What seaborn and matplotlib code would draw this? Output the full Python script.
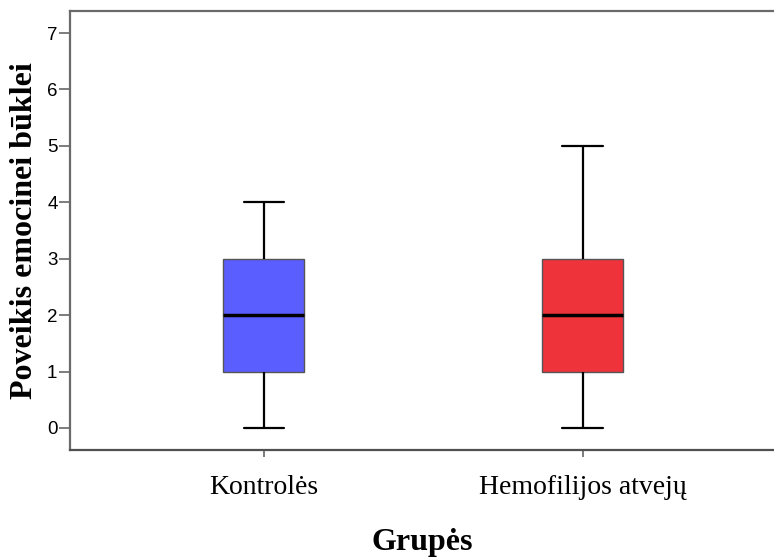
import matplotlib
matplotlib.use("Agg")
import matplotlib.pyplot as plt
import seaborn as sns
import pandas as pd

categories = ["Kontrolės", "Hemofilijos atvejų"]
# raw scores chosen so the box statistics match the figure
kontroles = [0, 1, 1, 2, 2, 2, 3, 3, 4]
hemofilija = [0, 1, 1, 2, 2, 2, 3, 3, 5]
colors = ["#5a5eff", "#ef333a"]
y_ticks = [0, 1, 2, 3, 4, 5, 6, 7]

df = pd.DataFrame({
    "group": [categories[0]] * len(kontroles) + [categories[1]] * len(hemofilija),
    "value": kontroles + hemofilija,
})

sns.set_style("white")
plt.rcParams["text.color"] = "black"
plt.rcParams["axes.labelcolor"] = "black"
plt.rcParams["xtick.color"] = "black"
plt.rcParams["ytick.color"] = "black"

fig = plt.figure(figsize=(7.74, 5.6), dpi=100)
ax = fig.add_axes([70 / 774, 1 - 450 / 560, 1 - 70 / 774, (450 - 11) / 560])

sns.boxplot(
    data=df, x="group", y="value", hue="group", order=categories,
    hue_order=categories, palette=colors, width=0.254, legend=False,
    linewidth=1.5, ax=ax, saturation=1,
    boxprops=dict(edgecolor="#555555", linewidth=1.0),
    whiskerprops=dict(color="black", linewidth=1.6),
    capprops=dict(color="black", linewidth=1.6),
    medianprops=dict(color="black", linewidth=2.5),
    flierprops=dict(marker="o", markerfacecolor="none", markeredgecolor="black"),
)

ax.set_xlim(-0.608, 1.6)
ax.set_ylim(-0.39, 7.39)
ax.set_yticks(y_ticks)
ax.set_yticklabels([str(t) for t in y_ticks], family="Liberation Sans", fontsize=13.5, color="black")
ax.set_xticks(range(len(categories)))
ax.set_xticklabels(categories, family="Liberation Serif", fontsize=20, color="black")

ax.tick_params(axis="y", direction="out", length=8, width=1.2, color="#666666", pad=1, left=True)
ax.tick_params(axis="x", direction="out", length=5, width=1.2, color="#666666", pad=13, bottom=True)

ax.set_xlabel("Grupės", family="Liberation Serif", fontweight="bold", fontsize=23, labelpad=20, color="black")
ax.set_ylabel("Poveikis emocinei būklei", family="Liberation Serif", fontweight="bold", fontsize=23, labelpad=6, color="black")

for side in ["left", "top", "bottom"]:
    ax.spines[side].set_visible(True)
    ax.spines[side].set_color("#6a6a6a")
    ax.spines[side].set_linewidth(1.6)
ax.spines["bottom"].set_color("#505050")
ax.spines["right"].set_visible(False)

fig.savefig("out.png", dpi=100)
